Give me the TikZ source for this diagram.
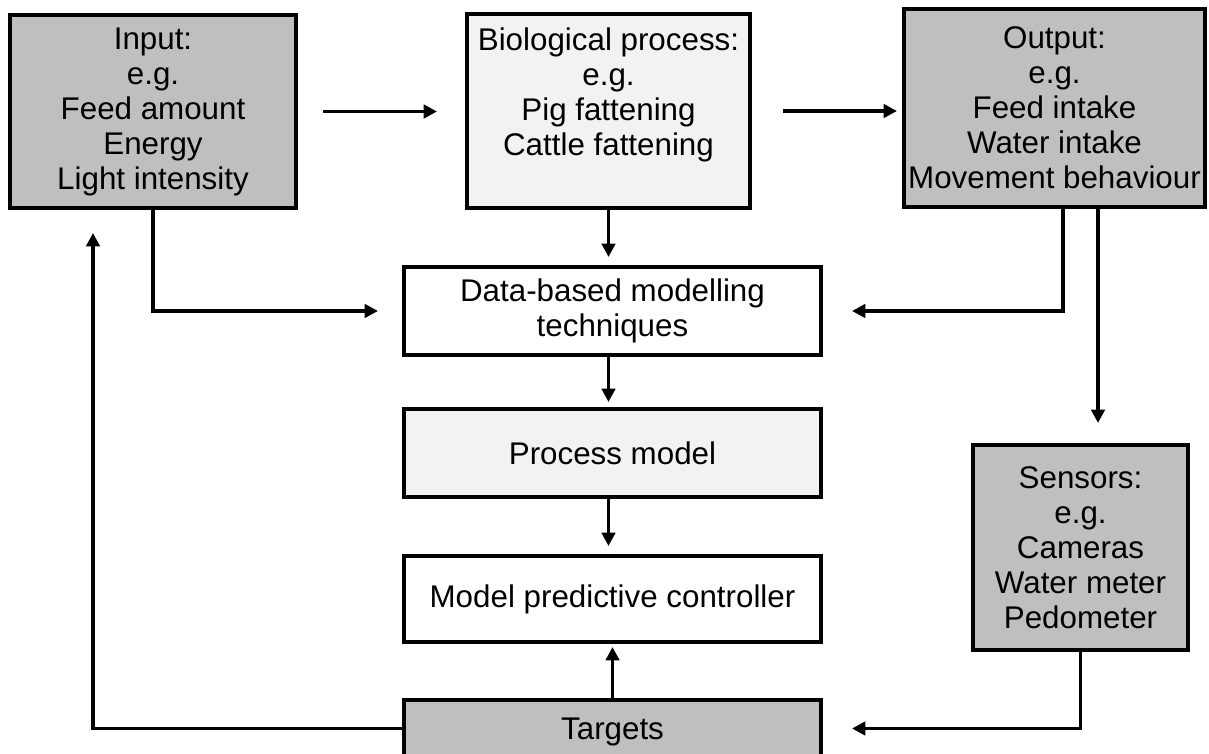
\documentclass[tikz,border=0pt]{standalone}
\usepackage{fontspec}
\setmainfont{Liberation Sans}
\usetikzlibrary{arrows.meta,calc}
\definecolor{boxdark}{RGB}{191,191,191}
\definecolor{boxlight}{RGB}{242,242,242}
\begin{document}
\begin{tikzpicture}[x=0.75pt,y=-0.75pt,
  every node/.style={outer sep=0pt,inner sep=0pt},
  txt/.style={align=center,font=\fontsize{23.5}{26.25}\selectfont},
  box/.style={draw=black,line width=2.8pt,txt},
  darkbox/.style={box,fill=boxdark},
  lightbox/.style={box,fill=boxlight},
  whitebox/.style={box,fill=white},
  flow/.style={line width=2.8pt,-{Triangle[length=10pt,width=10pt]}}]
\useasboundingbox[fill=white] (0,0) rectangle (1209,753);

% top row: input, biological process, output
\node[darkbox,minimum width=214.5pt,minimum height=144.75pt] (in) at (153,111.5)
  {Input:\\e.g.\\Feed amount\\Energy\\Light intensity};
\node[lightbox,minimum width=212.25pt,minimum height=145.5pt] (bio) at (608.5,111) {};
\node[txt] (biotext) at (608.5,95)
  {Biological process:\\e.g.\\Pig fattening\\Cattle fattening};
\node[darkbox,minimum width=225.75pt,minimum height=148.5pt] (out) at (1054.5,108)
  {Output:\\e.g.\\Feed intake\\Water intake\\Movement behaviour};

% central column
\node[whitebox,minimum width=312.75pt,minimum height=66pt] (data) at (612.5,311)
  {Data-based modelling\\techniques};
\node[lightbox,minimum width=312.75pt,minimum height=66pt] (proc) at (612.5,453)
  {Process model};
\node[whitebox,minimum width=312.75pt,minimum height=64.5pt] (mpc) at (612.5,599)
  {Model predictive controller};
\node[darkbox,minimum width=312.75pt,minimum height=42.75pt] (tgt) at (612.5,728.5) {};
\node[txt] (tgttext) at (612.5,732) {Targets};

% sensors
\node[darkbox,minimum width=161.25pt,minimum height=153.75pt] (sens) at (1080.5,547.5)
  {Sensors:\\e.g.\\Cameras\\Water meter\\Pedometer};

% branch points below the output box
\coordinate (outA) at ($(out.south)+(8.5,0)$);
\coordinate (outB) at ($(out.south)+(43.5,0)$);
\coordinate (inB) at ($(in.south)+(-60,0)$);

% connectors
\draw[flow,shorten <=20.25pt,shorten >=22.5pt] (in.east) -- (in.east -| bio.west);
\draw[flow,shorten <=24.75pt,shorten >=5.25pt] (bio.east) -- (bio.east -| out.west);
\draw[flow,shorten >=7.5pt] (bio.south) -- (bio.south |- data.north);
\draw[flow,shorten >=5.25pt] (bio.south |- data.south) -- (bio.south |- proc.north);
\draw[flow,shorten >=7.5pt] (bio.south |- proc.south) -- (bio.south |- mpc.north);
\draw[flow,shorten >=3.75pt] (tgt.north) -- (tgt.north |- mpc.south);
\draw[flow,shorten >=19.5pt] (in.south) |- (data.west);
\draw[flow,shorten >=23.25pt] (outA) |- (data.east);
\draw[flow,shorten >=16.5pt] (outB) -- (outB |- sens.north);
\draw[flow,shorten >=18.75pt] (tgt.west) -| (inB);
\draw[flow,shorten >=23.25pt] (sens.south) |- (tgt.east);
\end{tikzpicture}
\end{document}
